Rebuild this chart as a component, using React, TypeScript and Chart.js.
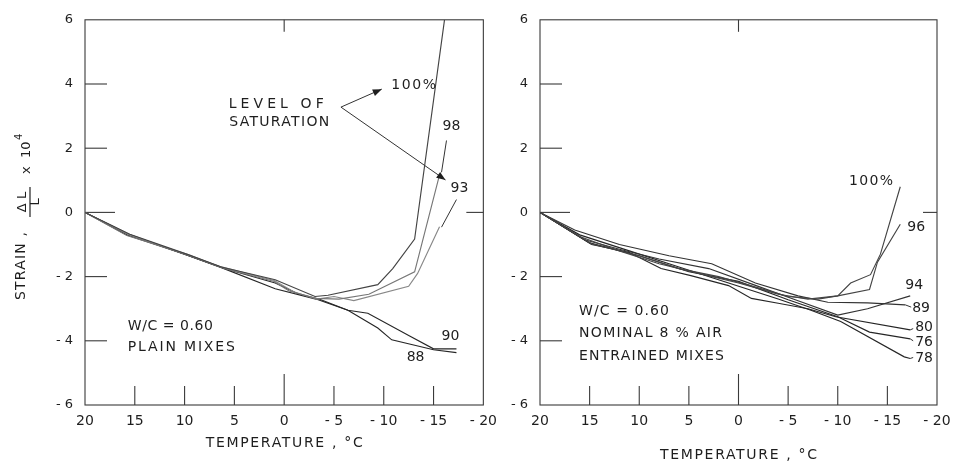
import React, { useEffect, useRef } from 'react';
import { Chart, registerables } from 'chart.js';
Chart.register(...registerables);

// ---------- data (temperature °C, strain x 10^4) ----------
const xTickValues = [20, 15, 10, 5, 0, -5, -10, -15, -20];
const yTickValues = [6, 4, 2, 0, -2, -4, -6];

// Left panel: plain mixes, W/C = 0.60
const plain100 = [[20, 0], [15.5, -0.68], [9.5, -1.33], [6.3, -1.7], [0.9, -2.1], [-3.1, -2.62], [-4.4, -2.58], [-9.4, -2.25], [-10.9, -1.75], [-13.1, -0.83], [-16.1, 6]];
const plain98 = [[20, 0], [15.8, -0.72], [9.8, -1.3], [6, -1.75], [1, -2.15], [-0.5, -2.45], [-3.2, -2.68], [-5.5, -2.7], [-8.5, -2.55], [-13.1, -1.85], [-15.6, 1.17]];
const plain93 = [[20, 0], [15.5, -0.7], [9.5, -1.35], [6.5, -1.68], [1, -2.12], [-1, -2.48], [-3.3, -2.7], [-5, -2.62], [-7, -2.75], [-12.5, -2.3], [-13.4, -1.9], [-15.6, -0.45]];
const plain90 = [[20, 0], [15.6, -0.68], [9.6, -1.35], [6.3, -1.72], [0.9, -2.38], [-3.2, -2.7], [-6.4, -3.05], [-8.4, -3.14], [-12.6, -3.85], [-15, -4.25], [-17.3, -4.25]];
const plain88 = [[20, 0], [15.8, -0.7], [10, -1.3], [6, -1.75], [0.9, -2.2], [-1.5, -2.55], [-3.5, -2.7], [-6.4, -3.05], [-9.4, -3.6], [-10.8, -3.97], [-15, -4.28], [-17.3, -4.37]];

// Right panel: nominal 8% air entrained mixes, W/C = 0.60
const air100 = [[20, 0], [16, -0.75], [12, -1.2], [8, -1.6], [4, -1.9], [0, -2.2], [-4, -2.55], [-7, -2.7], [-10, -2.6], [-11.3, -2.2], [-13.3, -1.94], [-14.3, -1.3], [-16.3, 0.8]];
const air96 = [[20, 0], [14.8, -0.98], [10, -1.35], [6, -1.75], [2, -2.0], [-2, -2.35], [-5, -2.62], [-8, -2.7], [-10, -2.6], [-13.2, -2.4], [-14, -1.55], [-16.3, -0.37]];
const air94 = [[20, 0], [15.5, -0.85], [12, -1.15], [8, -1.45], [3, -1.75], [-1.5, -2.25], [-6, -2.75], [-10, -3.2], [-13, -3.0], [-17.3, -2.6]];
const air89 = [[20, 0], [16.5, -0.55], [12, -1.0], [7, -1.35], [2.7, -1.6], [-1.7, -2.2], [-6, -2.6], [-9, -2.8], [-13, -2.82], [-16.8, -2.88]];
const air80 = [[20, 0], [14.8, -1.0], [11, -1.25], [7.8, -1.75], [4.8, -1.97], [1, -2.28], [-1.3, -2.68], [-4, -2.83], [-7, -3.0], [-9.8, -3.25], [-17.3, -3.66]];
const air76 = [[20, 0], [15, -0.95], [10, -1.35], [5, -1.85], [0, -2.15], [-5, -2.72], [-10, -3.25], [-13.2, -3.73], [-17.3, -3.94]];
const air78 = [[20, 0], [16, -0.7], [11, -1.2], [6, -1.7], [1, -2.2], [-4, -2.7], [-7.3, -3.05], [-10.3, -3.4], [-16.7, -4.5], [-17.3, -4.55]];

const plainLabels = ['100%', '98', '93', '90', '88'];
const airLabels = ['100%', '96', '94', '89', '80', '76', '78'];

const FONT = '"DejaVu Sans", "Liberation Sans", sans-serif';
const INK = '#1e1e1e';

type Note = { text: string; t: number; s: number; size?: number; w?: number; align?: CanvasTextAlign };
type Seg = { t1: number; s1: number; t2: number; s2: number; arrow?: boolean };

function drawText(ctx: CanvasRenderingContext2D, text: string, x: number, y: number, size: number, width?: number, align: CanvasTextAlign = 'center') {
  ctx.font = `${size}px ${FONT}`;
  (ctx as any).letterSpacing = '0px';
  let sp = 0;
  if (width) {
    const m = ctx.measureText(text).width;
    sp = Math.max(0, (width - m) / Math.max(1, text.length - 1));
  }
  (ctx as any).letterSpacing = sp + 'px';
  ctx.textAlign = align;
  ctx.textBaseline = 'middle';
  ctx.fillText(text, align === 'center' ? x + sp / 2 : x, y);
  (ctx as any).letterSpacing = '0px';
}

function line(ctx: CanvasRenderingContext2D, x1: number, y1: number, x2: number, y2: number) {
  ctx.beginPath();
  ctx.moveTo(x1, y1);
  ctx.lineTo(x2, y2);
  ctx.stroke();
}

function makePanelPlugin(notes: Note[], segs: Seg[], xTitleOffset: number, withYTitle: boolean, rightTick: number) {
  return {
    id: 'panel',
    beforeDatasetsDraw(chart: any) {
      const { ctx, chartArea: a, scales } = chart;
      const x = scales.x, y = scales.y;
      ctx.save();
      ctx.strokeStyle = '#3a3a3a';
      ctx.lineWidth = 1.1;
      ctx.strokeRect(a.left, a.top, a.right - a.left, a.bottom - a.top);
      yTickValues.forEach((v) => {
        if (v === 6 || v === -6) return;
        const py = y.getPixelForValue(v);
        line(ctx, a.left, py, a.left + (v === 0 ? 30 : 22), py);
      });
      xTickValues.forEach((v) => {
        if (v === 20 || v === -20) return;
        const px = x.getPixelForValue(v);
        line(ctx, px, a.bottom, px, a.bottom - (v === 0 ? 31 : 19));
      });
      const p0 = x.getPixelForValue(0);
      line(ctx, p0, a.top, p0, a.top + 12);
      const y0 = y.getPixelForValue(0);
      line(ctx, a.right, y0, a.right - rightTick, y0);
      ctx.restore();
    },
    afterDatasetsDraw(chart: any) {
      const { ctx, chartArea: a, scales } = chart;
      const x = scales.x, y = scales.y;
      ctx.save();
      ctx.fillStyle = INK;
      ctx.strokeStyle = '#333';
      ctx.lineWidth = 1;
      notes.forEach((n) => {
        drawText(ctx, n.text, x.getPixelForValue(n.t), y.getPixelForValue(n.s), n.size || 14, n.w, n.align || 'center');
      });
      segs.forEach((g) => {
        const x1 = x.getPixelForValue(g.t1), y1 = y.getPixelForValue(g.s1);
        const x2 = x.getPixelForValue(g.t2), y2 = y.getPixelForValue(g.s2);
        line(ctx, x1, y1, x2, y2);
        if (g.arrow) {
          const ang = Math.atan2(y2 - y1, x2 - x1);
          const L = 9, W = 3.5;
          ctx.beginPath();
          ctx.moveTo(x2, y2);
          ctx.lineTo(x2 - L * Math.cos(ang) + W * Math.sin(ang), y2 - L * Math.sin(ang) - W * Math.cos(ang));
          ctx.lineTo(x2 - L * Math.cos(ang) - W * Math.sin(ang), y2 - L * Math.sin(ang) + W * Math.cos(ang));
          ctx.closePath();
          ctx.fill();
        }
      });
      // x-axis title
      drawText(ctx, 'TEMPERATURE , °C', (a.left + a.right) / 2, a.bottom + xTitleOffset, 14, 157);
      if (withYTitle) {
        ctx.save();
        ctx.translate(24, 300);
        ctx.rotate(-Math.PI / 2);
        drawText(ctx, 'STRAIN ,', 0, -3, 14, 68, 'left');
        drawText(ctx, 'Δ L', 98, -1.5, 13, 20);
        ctx.beginPath();
        ctx.moveTo(83, 6);
        ctx.lineTo(113, 6);
        ctx.lineWidth = 1.3;
        ctx.stroke();
        drawText(ctx, 'L', 98, 12, 13);
        drawText(ctx, 'x', 126, 2.5, 13, undefined, 'left');
        drawText(ctx, '10', 142, 2.5, 13, 14, 'left');
        drawText(ctx, '4', 160, -4.5, 10, undefined, 'left');
        ctx.restore();
      }
      ctx.restore();
    },
  };
}

function toPts(arr: number[][]) {
  return arr.map(([t, s]) => ({ x: t, y: s }));
}

function buildConfig(series: number[][][], labels: string[], colors: string[], yWidth: number, padRight: number, plugin: any) {
  return {
    type: 'line' as const,
    data: {
      datasets: series.map((d, i) => ({
        label: labels[i],
        data: toPts(d),
        borderColor: colors[i],
        borderWidth: 1.15,
        pointRadius: 0,
        tension: 0,
        fill: false,
      })),
    },
    options: {
      animation: false as const,
      responsive: false,
      maintainAspectRatio: false,
      layout: { padding: { left: 0, right: padRight, top: 14, bottom: 0 } },
      plugins: { legend: { display: false }, tooltip: { enabled: false }, title: { display: false } },
      scales: {
        x: {
          type: 'linear' as const,
          min: -20,
          max: 20,
          reverse: true,
          afterFit: (s: any) => { s.height = 59; },
          afterBuildTicks: (s: any) => { s.ticks = xTickValues.map((v) => ({ value: v })); },
          grid: { display: false, drawTicks: false },
          border: { display: false },
          ticks: {
            autoSkip: false,
            maxRotation: 0,
            minRotation: 0,
            padding: 8,
            color: INK,
            font: { family: FONT, size: 14 },
            callback: (v: any) => (v < 0 ? '- ' + Math.abs(v) : String(v)),
          },
        },
        y: {
          type: 'linear' as const,
          min: -6,
          max: 6,
          afterFit: (s: any) => { s.width = yWidth; },
          afterBuildTicks: (s: any) => { s.ticks = yTickValues.map((v) => ({ value: v })); },
          grid: { display: false, drawTicks: false },
          border: { display: false },
          ticks: {
            padding: 12,
            color: INK,
            font: { family: FONT, size: 13 },
            callback: (v: any) => (v < 0 ? '- ' + Math.abs(v) : String(v)),
          },
        },
      },
    },
    plugins: [plugin],
  };
}

const plainNotes: Note[] = [
  { text: 'LEVEL OF', t: 0.8, s: 3.38, w: 95 },
  { text: 'SATURATION', t: 0.5, s: 2.82, w: 100 },
  { text: '100%', t: -13, s: 3.96, w: 45 },
  { text: plainLabels[1], t: -16.8, s: 2.67 },
  { text: plainLabels[2], t: -17.6, s: 0.74 },
  { text: plainLabels[3], t: -16.7, s: -3.87 },
  { text: plainLabels[4], t: -13.2, s: -4.51 },
  { text: 'W/C = 0.60', t: 15.7, s: -3.56, w: 85, align: 'left' },
  { text: 'PLAIN MIXES', t: 15.7, s: -4.2, w: 107, align: 'left' },
];
const plainSegs: Seg[] = [
  { t1: -5.7, s1: 3.28, t2: -9.8, s2: 3.84, arrow: true },
  { t1: -5.7, s1: 3.28, t2: -16.2, s2: 1.01, arrow: true },
  { t1: -16.3, s1: 2.24, t2: -15.8, s2: 1.25 },
  { t1: -17.3, s1: 0.4, t2: -15.8, s2: -0.46 },
];

const airNotes: Note[] = [
  { text: airLabels[0], t: -13.35, s: 0.98, w: 44 },
  { text: airLabels[1], t: -17.9, s: -0.46 },
  { text: airLabels[2], t: -17.7, s: -2.27 },
  { text: airLabels[3], t: -18.4, s: -2.98 },
  { text: airLabels[4], t: -18.7, s: -3.59 },
  { text: airLabels[5], t: -18.7, s: -4.05 },
  { text: airLabels[6], t: -18.7, s: -4.54 },
  { text: 'W/C = 0.60', t: 16.07, s: -3.07, w: 90, align: 'left' },
  { text: 'NOMINAL 8 % AIR', t: 16.07, s: -3.78, w: 143, align: 'left' },
  { text: 'ENTRAINED MIXES', t: 16.07, s: -4.48, w: 145, align: 'left' },
];
const airSegs: Seg[] = [
  { t1: -16.8, s1: -2.88, t2: -17.4, s2: -2.95 },
  { t1: -17.3, s1: -3.66, t2: -17.6, s2: -3.62 },
  { t1: -17.3, s1: -3.94, t2: -17.6, s2: -4.0 },
  { t1: -17.3, s1: -4.55, t2: -17.6, s2: -4.52 },
];

function Panel({ left, width, build }: { left: number; width: number; build: () => any }) {
  const ref = useRef<HTMLCanvasElement | null>(null);
  useEffect(() => {
    if (!ref.current) return;
    const chart = new Chart(ref.current, build());
    return () => chart.destroy();
  }, []);
  return (
    <canvas
      ref={ref}
      width={width}
      height={464}
      style={{ position: 'absolute', left, top: 0, width, height: 464 }}
    />
  );
}

export default function App() {
  return (
    <div style={{ position: 'absolute', left: 0, top: 0, width: 959, height: 464, background: '#fff', overflow: 'hidden' }}>
      <Panel
        left={0}
        width={505}
        build={() =>
          buildConfig(
            [plain100, plain98, plain93, plain90, plain88],
            plainLabels,
            ['#444', '#777', '#888', '#262626', '#262626'],
            85,
            20,
            makePanelPlugin(plainNotes, plainSegs, 38, true, 17)
          )
        }
      />
      <Panel
        left={505}
        width={454}
        build={() =>
          buildConfig(
            [air100, air96, air94, air89, air80, air76, air78],
            airLabels,
            ['#444', '#444', '#333', '#333', '#262626', '#262626', '#262626'],
            35,
            22,
            makePanelPlugin(airNotes, airSegs, 50, false, 14)
          )
        }
      />
    </div>
  );
}
